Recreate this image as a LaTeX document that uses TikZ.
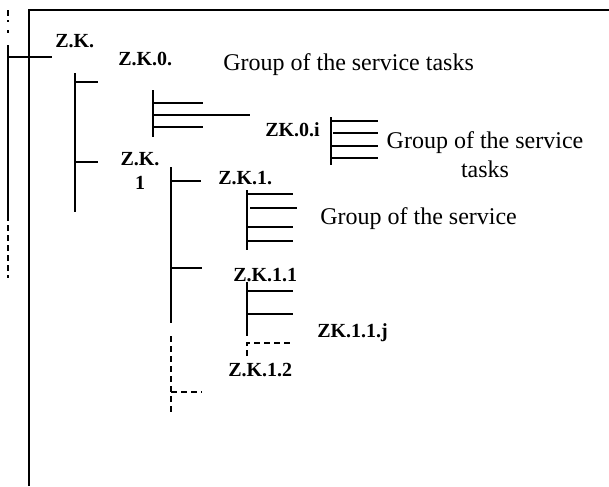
\documentclass[tikz,border=0pt]{standalone}
\usepackage{fontspec}
\setmainfont{Liberation Serif}
\usetikzlibrary{positioning}
\tikzstyle{lbl}=[font=\fontsize{15}{18}\selectfont\bfseries,inner sep=0pt,anchor=base west]
\tikzstyle{grp}=[font=\fontsize{18}{22}\selectfont,inner sep=0pt,anchor=base west]
\tikzstyle{br}=[line width=1.1pt]
\tikzstyle{dsh}=[line width=1.1pt,dash pattern=on 4.5pt off 3pt]

\begin{document}
\begin{tikzpicture}[x=0.75pt,y=-0.75pt]
\useasboundingbox (0,0) rectangle (609,486);
% frame
\draw [line width=1.4pt] (29,486) -- (29,10) -- (609,10);
% outer axis
\draw [dsh] (8,10) -- (8,22);
\draw [br] (8,30) -- (8,33);
\draw [br] (8,45) -- (8,215);
\draw [dsh] (8,215) -- (8,278);
\draw [br] (8,57) -- (52,57);

% labels
\node (zk) [lbl] at (55,47) {Z.K.};
\node (zk0) [lbl] at (118,65) {Z.K.0.};
\node (grp0) [grp] at (223,70) {Group of the service tasks};
\node (zk0i) [lbl] at (265,136) {ZK.0.i};
\node (grp0i) [grp, anchor=north, align=center] at (485,131) {Group of the service\\tasks};
\node (zk1top) [lbl, anchor=north, align=center] at (140,152) {Z.K.\\1};
\node (zk1) [lbl] at (218,184) {Z.K.1.};
\node (grp1) [grp] at (320,224) {Group of the service};
\node (zk11) [lbl] at (233,281) {Z.K.1.1};
\node (zk11j) [lbl] at (317,337) {ZK.1.1.j};
\node (zk12) [lbl] at (228,376) {Z.K.1.2};

% level 0
\draw [br] (75,73) -- (75,212);
\draw [br] (75,82) -- (98,82);
\draw [br] (75,162) -- (98,162);

% tasks of Z.K.0.
\draw [br] (153,90) -- (153,137);
\draw [br] (153,103) -- (203,103);
\draw [br] (153,115) -- (250,115);
\draw [br] (153,127) -- (203,127);

% tasks of ZK.0.i
\draw [br] (331,117) -- (331,165);
\draw [br] (331,121) -- (378,121);
\draw [br] (333,133) -- (378,133);
\draw [br] (331,146) -- (378,146);
\draw [br] (331,158) -- (378,158);

% level 1
\draw [br] (171,167) -- (171,323);
\draw [dsh] (171,336) -- (171,412);
\draw [br] (171,181) -- (201,181);
\draw [br] (171,268) -- (202,268);
\draw [dsh] (171,392) -- (202,392);

% tasks of Z.K.1.
\draw [br] (247,190) -- (247,250);
\draw [br] (247,194) -- (293,194);
\draw [br] (250,208) -- (297,208);
\draw [br] (247,227) -- (293,227);
\draw [br] (247,241) -- (293,241);

% tasks of Z.K.1.1
\draw [br] (247,282) -- (247,336);
\draw [br] (247,291) -- (293,291);
\draw [br] (247,314) -- (293,314);
\draw [dsh] (247,356) -- (247,343) -- (293,343);
\end{tikzpicture}
\end{document}
